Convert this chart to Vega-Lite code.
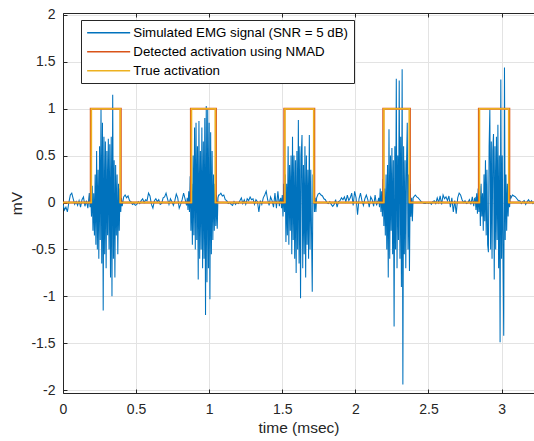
{
  "$schema": "https://vega.github.io/schema/vega-lite/v6.json",
  "width": 471,
  "height": 380,
  "autosize": {"type": "none"},
  "padding": {"left": 63, "top": 13, "right": 0, "bottom": 48},
  "background": "white",
  "config": {
    "font": "Liberation Sans",
    "view": {"stroke": null},
    "axis": {
      "domainColor": "#262626",
      "tickColor": "#262626",
      "labelColor": "#262626",
      "titleColor": "#262626",
      "gridColor": "#e3e3e3",
      "labelFont": "Liberation Sans",
      "labelFontSize": 14,
      "titleFont": "Liberation Sans",
      "titleFontSize": 15.5,
      "titleFontWeight": "normal",
      "tickSize": -4
    }
  },
  "resolve": {"axis": {"x": "independent"}},
  "layer": [
    {
      "data": {"values": [
        {"t":0,"v":-0.02},{"t":0.01,"v":-0.08},{"t":0.02,"v":-0.05},{"t":0.03,"v":-0.1},{"t":0.04,"v":0},{"t":0.05,"v":0.08},{"t":0.06,"v":0.1},{"t":0.07,"v":0.04},{"t":0.08,"v":-0.02},{"t":0.09,"v":0.01},{"t":0.1,"v":-0.03},{"t":0.11,"v":0.02},{"t":0.12,"v":-0.05},{"t":0.13,"v":0.03},{"t":0.14,"v":0.06},{"t":0.15,"v":-0.04},{"t":0.16,"v":0.02},{"t":0.17,"v":-0.06},{"t":0.18,"v":0.1},{"t":0.185,"v":-0.05},
        {"t":0.19,"v":0.05},{"t":0.195,"v":-0.15},{"t":0.2,"v":0.18},{"t":0.205,"v":-0.3},{"t":0.21,"v":0.1},{"t":0.215,"v":-0.35},{"t":0.22,"v":0.3},{"t":0.225,"v":-0.45},{"t":0.23,"v":0.55},{"t":0.235,"v":-0.5},{"t":0.24,"v":0.35},{"t":0.245,"v":-0.6},{"t":0.25,"v":0.6},{"t":0.255,"v":-0.4},{"t":0.26,"v":1.0},{"t":0.265,"v":-0.65},{"t":0.27,"v":0.85},{"t":0.275,"v":-1.15},{"t":0.28,"v":0.7},{"t":0.285,"v":-0.55},{"t":0.29,"v":0.65},{"t":0.295,"v":-0.7},{"t":0.3,"v":0.55},{"t":0.305,"v":-0.35},{"t":0.31,"v":0.68},{"t":0.315,"v":-0.5},{"t":0.32,"v":0.62},{"t":0.325,"v":-0.8},{"t":0.33,"v":0.7},{"t":0.335,"v":-1.0},{"t":0.34,"v":1.15},{"t":0.345,"v":-0.6},{"t":0.35,"v":0.45},{"t":0.355,"v":-0.8},{"t":0.36,"v":0.4},{"t":0.365,"v":-0.35},{"t":0.37,"v":0.3},{"t":0.375,"v":-0.55},{"t":0.38,"v":0.2},{"t":0.385,"v":-0.3},{"t":0.39,"v":0.15},{"t":0.395,"v":-0.1},{"t":0.4,"v":0.05},
        {"t":0.405,"v":-0.04},{"t":0.415,"v":0.06},{"t":0.425,"v":0.08},{"t":0.435,"v":0.05},{"t":0.445,"v":0.07},{"t":0.455,"v":0.02},{"t":0.465,"v":0.01},{"t":0.475,"v":-0.02},{"t":0.485,"v":-0.01},{"t":0.495,"v":-0.03},{"t":0.505,"v":-0.02},{"t":0.515,"v":0.01},{"t":0.525,"v":-0.01},{"t":0.535,"v":0.02},{"t":0.545,"v":0.04},{"t":0.555,"v":0},{"t":0.565,"v":0.03},{"t":0.575,"v":0.02},{"t":0.585,"v":0.1},{"t":0.595,"v":0.07},{"t":0.605,"v":-0.02},{"t":0.615,"v":-0.06},{"t":0.625,"v":0.02},{"t":0.635,"v":0.04},{"t":0.645,"v":0.01},{"t":0.655,"v":0.03},{"t":0.665,"v":-0.02},{"t":0.675,"v":-0.01},{"t":0.685,"v":0.05},{"t":0.695,"v":0.06},{"t":0.705,"v":0.1},{"t":0.715,"v":0.04},{"t":0.725,"v":-0.02},{"t":0.735,"v":0.04},{"t":0.745,"v":0.01},{"t":0.755,"v":-0.03},{"t":0.765,"v":0.02},{"t":0.775,"v":0.09},{"t":0.785,"v":0.05},{"t":0.795,"v":-0.06},{"t":0.805,"v":-0.02},{"t":0.815,"v":0.03},{"t":0.825,"v":0.1},{"t":0.835,"v":0.04},{"t":0.845,"v":-0.03},
        {"t":0.85,"v":0.05},{"t":0.855,"v":-0.08},{"t":0.86,"v":0.12},{"t":0.865,"v":-0.1},{"t":0.87,"v":0.28},{"t":0.875,"v":-0.3},{"t":0.88,"v":0.2},{"t":0.885,"v":-0.45},{"t":0.89,"v":0.5},{"t":0.895,"v":-0.35},{"t":0.9,"v":0.8},{"t":0.905,"v":-0.5},{"t":0.91,"v":0.85},{"t":0.915,"v":-0.4},{"t":0.92,"v":0.6},{"t":0.925,"v":-0.82},{"t":0.93,"v":0.87},{"t":0.935,"v":-0.6},{"t":0.94,"v":0.55},{"t":0.945,"v":-0.5},{"t":0.95,"v":0.8},{"t":0.955,"v":-0.7},{"t":0.96,"v":0.65},{"t":0.965,"v":-0.6},{"t":0.97,"v":0.9},{"t":0.975,"v":-1.2},{"t":0.98,"v":1.03},{"t":0.985,"v":-0.85},{"t":0.99,"v":1.0},{"t":0.995,"v":-0.7},{"t":1.0,"v":0.85},{"t":1.005,"v":-1.03},{"t":1.01,"v":0.75},{"t":1.015,"v":-0.55},{"t":1.02,"v":0.55},{"t":1.025,"v":-0.4},{"t":1.03,"v":0.3},{"t":1.035,"v":-0.3},{"t":1.04,"v":0.2},{"t":1.045,"v":-0.25},{"t":1.05,"v":0.08},{"t":1.055,"v":-0.28},{"t":1.06,"v":0.05},{"t":1.065,"v":0.08},
        {"t":1.07,"v":0.08},{"t":1.08,"v":0.1},{"t":1.09,"v":0.07},{"t":1.1,"v":0.08},{"t":1.11,"v":0.03},{"t":1.12,"v":0.02},{"t":1.13,"v":-0.01},{"t":1.14,"v":0},{"t":1.15,"v":-0.02},{"t":1.16,"v":-0.03},{"t":1.17,"v":0.01},{"t":1.18,"v":-0.02},{"t":1.19,"v":0},{"t":1.2,"v":-0.01},{"t":1.21,"v":0.02},{"t":1.22,"v":0.05},{"t":1.23,"v":-0.01},{"t":1.24,"v":0.03},{"t":1.25,"v":-0.02},{"t":1.26,"v":0.04},{"t":1.27,"v":0.02},{"t":1.28,"v":0.06},{"t":1.29,"v":0.03},{"t":1.3,"v":0.04},{"t":1.31,"v":-0.02},{"t":1.32,"v":0.03},{"t":1.33,"v":0.01},{"t":1.34,"v":-0.1},{"t":1.35,"v":0.02},{"t":1.36,"v":-0.02},{"t":1.37,"v":0.05},{"t":1.38,"v":0.08},{"t":1.39,"v":0.12},{"t":1.4,"v":0.03},{"t":1.41,"v":-0.03},{"t":1.42,"v":0.06},{"t":1.43,"v":0.02},{"t":1.44,"v":-0.05},{"t":1.45,"v":0.1},{"t":1.46,"v":-0.06},{"t":1.47,"v":0.12},{"t":1.48,"v":-0.04},{"t":1.485,"v":0.03},
        {"t":1.49,"v":0.05},{"t":1.495,"v":-0.06},{"t":1.5,"v":0.08},{"t":1.505,"v":-0.15},{"t":1.51,"v":0.2},{"t":1.515,"v":-0.1},{"t":1.52,"v":0.3},{"t":1.525,"v":-0.42},{"t":1.53,"v":0.2},{"t":1.535,"v":-0.35},{"t":1.54,"v":0.6},{"t":1.545,"v":-0.45},{"t":1.55,"v":0.4},{"t":1.555,"v":-0.3},{"t":1.56,"v":0.5},{"t":1.565,"v":-0.55},{"t":1.57,"v":0.7},{"t":1.575,"v":-0.4},{"t":1.58,"v":0.5},{"t":1.585,"v":-0.6},{"t":1.59,"v":0.45},{"t":1.595,"v":-0.75},{"t":1.6,"v":0.55},{"t":1.605,"v":-0.5},{"t":1.61,"v":0.88},{"t":1.615,"v":-0.65},{"t":1.62,"v":0.6},{"t":1.625,"v":-1.02},{"t":1.63,"v":0.5},{"t":1.635,"v":0.72},{"t":1.64,"v":-0.7},{"t":1.645,"v":0.4},{"t":1.65,"v":-0.55},{"t":1.655,"v":0.6},{"t":1.66,"v":-0.8},{"t":1.665,"v":0.5},{"t":1.67,"v":-0.45},{"t":1.675,"v":0.35},{"t":1.68,"v":-0.6},{"t":1.685,"v":0.72},{"t":1.69,"v":-0.5},{"t":1.695,"v":0.35},{"t":1.7,"v":-0.3},{"t":1.705,"v":-0.95},{"t":1.71,"v":0.3},{"t":1.715,"v":0.2},{"t":1.72,"v":-0.1},{"t":1.725,"v":0.05},{"t":1.73,"v":-0.1},
        {"t":1.735,"v":0.05},{"t":1.745,"v":0.09},{"t":1.755,"v":0.1},{"t":1.765,"v":0.08},{"t":1.775,"v":0.07},{"t":1.785,"v":0.04},{"t":1.795,"v":0.03},{"t":1.805,"v":0},{"t":1.815,"v":-0.01},{"t":1.825,"v":0.01},{"t":1.835,"v":-0.02},{"t":1.845,"v":-0.04},{"t":1.855,"v":-0.02},{"t":1.865,"v":0.03},{"t":1.875,"v":-0.05},{"t":1.885,"v":0.01},{"t":1.895,"v":0.02},{"t":1.905,"v":0.05},{"t":1.915,"v":0.03},{"t":1.925,"v":0.06},{"t":1.935,"v":0.01},{"t":1.945,"v":0.08},{"t":1.955,"v":0.02},{"t":1.965,"v":0.05},{"t":1.975,"v":0.1},{"t":1.985,"v":-0.03},{"t":1.995,"v":0.12},{"t":2.005,"v":0.05},{"t":2.015,"v":-0.13},{"t":2.025,"v":0.04},{"t":2.035,"v":0.1},{"t":2.045,"v":0.02},{"t":2.055,"v":-0.03},{"t":2.065,"v":0.04},{"t":2.075,"v":0.08},{"t":2.085,"v":0.03},{"t":2.095,"v":-0.05},{"t":2.105,"v":0.06},{"t":2.115,"v":0.03},{"t":2.125,"v":-0.04},{"t":2.135,"v":0.08},{"t":2.145,"v":-0.03},{"t":2.155,"v":0.02},
        {"t":2.16,"v":0.05},{"t":2.165,"v":-0.05},{"t":2.17,"v":0.15},{"t":2.175,"v":-0.1},{"t":2.18,"v":0.12},{"t":2.185,"v":-0.15},{"t":2.19,"v":0.25},{"t":2.195,"v":-0.25},{"t":2.2,"v":0.15},{"t":2.205,"v":-0.35},{"t":2.21,"v":0.3},{"t":2.215,"v":-0.5},{"t":2.22,"v":0.4},{"t":2.225,"v":-0.8},{"t":2.23,"v":0.78},{"t":2.235,"v":-0.6},{"t":2.24,"v":0.5},{"t":2.245,"v":-0.3},{"t":2.25,"v":0.58},{"t":2.255,"v":-0.55},{"t":2.26,"v":0.45},{"t":2.265,"v":-1.32},{"t":2.27,"v":0.6},{"t":2.275,"v":-0.5},{"t":2.28,"v":1.32},{"t":2.285,"v":-0.7},{"t":2.29,"v":0.5},{"t":2.295,"v":-0.4},{"t":2.3,"v":1.3},{"t":2.305,"v":-0.6},{"t":2.31,"v":0.7},{"t":2.315,"v":-0.9},{"t":2.32,"v":1.42},{"t":2.325,"v":-1.94},{"t":2.33,"v":0.6},{"t":2.335,"v":-0.55},{"t":2.34,"v":0.45},{"t":2.345,"v":-0.7},{"t":2.35,"v":0.4},{"t":2.355,"v":0.85},{"t":2.36,"v":-0.5},{"t":2.365,"v":0.3},{"t":2.37,"v":-0.73},{"t":2.375,"v":0.2},{"t":2.38,"v":-0.15},{"t":2.385,"v":0.05},{"t":2.39,"v":-0.2},{"t":2.395,"v":0.05},
        {"t":2.4,"v":0.06},{"t":2.41,"v":0.08},{"t":2.42,"v":0.06},{"t":2.43,"v":0.05},{"t":2.44,"v":0.03},{"t":2.45,"v":0.01},{"t":2.46,"v":0},{"t":2.47,"v":-0.01},{"t":2.48,"v":-0.01},{"t":2.49,"v":0},{"t":2.5,"v":-0.01},{"t":2.51,"v":0},{"t":2.52,"v":-0.02},{"t":2.53,"v":0.01},{"t":2.54,"v":0.02},{"t":2.55,"v":-0.01},{"t":2.56,"v":0.05},{"t":2.57,"v":0},{"t":2.58,"v":0.07},{"t":2.59,"v":-0.02},{"t":2.6,"v":0.08},{"t":2.61,"v":0.04},{"t":2.62,"v":0.06},{"t":2.63,"v":0.02},{"t":2.64,"v":0.07},{"t":2.65,"v":-0.05},{"t":2.66,"v":0.05},{"t":2.67,"v":-0.1},{"t":2.68,"v":0.02},{"t":2.69,"v":-0.12},{"t":2.7,"v":0.05},{"t":2.71,"v":0.1},{"t":2.72,"v":0.08},{"t":2.73,"v":0.03},{"t":2.74,"v":0},{"t":2.75,"v":0.02},{"t":2.76,"v":-0.01},{"t":2.77,"v":0},{"t":2.78,"v":0.03},{"t":2.79,"v":-0.02},{"t":2.8,"v":0.06},{"t":2.81,"v":-0.04},{"t":2.815,"v":0.04},
        {"t":2.82,"v":0.05},{"t":2.825,"v":-0.08},{"t":2.83,"v":0.1},{"t":2.835,"v":-0.12},{"t":2.84,"v":0.15},{"t":2.845,"v":-0.1},{"t":2.85,"v":0.18},{"t":2.855,"v":-0.25},{"t":2.86,"v":0.2},{"t":2.865,"v":-0.15},{"t":2.87,"v":0.1},{"t":2.875,"v":-0.3},{"t":2.88,"v":0.3},{"t":2.885,"v":-0.2},{"t":2.89,"v":0.45},{"t":2.895,"v":-0.35},{"t":2.9,"v":0.35},{"t":2.905,"v":-0.45},{"t":2.91,"v":-0.53},{"t":2.915,"v":0.6},{"t":2.92,"v":0.99},{"t":2.925,"v":-0.5},{"t":2.93,"v":0.65},{"t":2.935,"v":-0.6},{"t":2.94,"v":0.55},{"t":2.945,"v":0.73},{"t":2.95,"v":-0.82},{"t":2.955,"v":0.6},{"t":2.96,"v":-0.5},{"t":2.965,"v":0.7},{"t":2.97,"v":-0.4},{"t":2.975,"v":0.83},{"t":2.98,"v":-0.7},{"t":2.985,"v":0.5},{"t":2.99,"v":-1.49},{"t":2.995,"v":1.31},{"t":3.0,"v":-0.6},{"t":3.005,"v":0.5},{"t":3.01,"v":-0.55},{"t":3.015,"v":-1.42},{"t":3.02,"v":1.44},{"t":3.025,"v":-0.4},{"t":3.03,"v":0.3},{"t":3.035,"v":-0.3},{"t":3.04,"v":0.2},{"t":3.045,"v":-0.15},{"t":3.05,"v":0.1},{"t":3.055,"v":-0.05},{"t":3.06,"v":0.08},
        {"t":3.065,"v":0.05},{"t":3.075,"v":0.08},{"t":3.085,"v":0.07},{"t":3.095,"v":0.06},{"t":3.105,"v":0.04},{"t":3.115,"v":0.02},{"t":3.125,"v":0.02},{"t":3.135,"v":-0.01},{"t":3.145,"v":0.01},{"t":3.155,"v":0.02},{"t":3.165,"v":-0.02},{"t":3.175,"v":0.01},{"t":3.185,"v":0.03},{"t":3.195,"v":0},{"t":3.205,"v":0.02},{"t":3.215,"v":-0.01},{"t":3.225,"v":0.01},{"t":3.235,"v":0}
      ]},
      "mark": {"type": "line", "strokeWidth": 1.05, "clip": true},
      "encoding": {
        "x": {
          "field": "t", "type": "quantitative",
          "scale": {"domain": [0, 3.222], "nice": false, "zero": false},
          "axis": {"title": "time (msec)", "values": [0, 0.5, 1, 1.5, 2, 2.5, 3], "labelExpr": "datum.value + ''", "labelFlush": false, "labelPadding": 13, "titlePadding": 4, "grid": true}
        },
        "y": {
          "field": "v", "type": "quantitative",
          "scale": {"domain": [-2.03, 2.02], "nice": false, "zero": false},
          "axis": {"title": "mV", "values": [-2, -1.5, -1, -0.5, 0, 0.5, 1, 1.5, 2], "labelExpr": "datum.value + ''", "labelPadding": 12, "titlePadding": 6, "grid": true}
        },
        "color": {
          "datum": "Simulated EMG signal (SNR = 5 dB)",
          "type": "nominal",
          "scale": {
            "domain": ["Simulated EMG signal (SNR = 5 dB)", "Detected activation using NMAD", "True activation"],
            "range": ["#0072BD", "#D95319", "#EDB120"]
          },
          "legend": {
            "orient": "none", "legendX": 18, "legendY": 7, "title": null,
            "symbolType": "M-10.75,0H10.75", "symbolSize": 16, "symbolStrokeWidth": 1.5,
            "symbolOffset": 15, "labelOffset": 18, "labelFontSize": 13.3, "labelFont": "Liberation Sans",
            "labelColor": "#000000", "labelLimit": 0,
            "fillColor": "white", "strokeColor": "#262626", "padding": 6, "rowPadding": 5
          }
        }
      }
    },
    {
      "data": {"values": [
        {"t":0,"v":0},{"t":0.19,"v":1},{"t":0.395,"v":0},{"t":0.875,"v":1},{"t":1.046,"v":0},{"t":1.514,"v":1},{"t":1.719,"v":0},{"t":2.191,"v":1},{"t":2.373,"v":0},{"t":2.845,"v":1},{"t":3.053,"v":0},{"t":3.222,"v":0}
      ]},
      "mark": {"type": "line", "interpolate": "step-after", "strokeWidth": 2},
      "encoding": {
        "x": {"field": "t", "type": "quantitative", "axis": null},
        "y": {"field": "v", "type": "quantitative"},
        "color": {"datum": "Detected activation using NMAD", "type": "nominal"}
      }
    },
    {
      "data": {"values": [
        {"t":0,"v":0},{"t":0.194,"v":1},{"t":0.391,"v":0},{"t":0.879,"v":1},{"t":1.042,"v":0},{"t":1.518,"v":1},{"t":1.715,"v":0},{"t":2.195,"v":1},{"t":2.369,"v":0},{"t":2.849,"v":1},{"t":3.049,"v":0},{"t":3.222,"v":0}
      ]},
      "mark": {"type": "line", "interpolate": "step-after", "strokeWidth": 1.6},
      "encoding": {
        "x": {"field": "t", "type": "quantitative", "axis": {"orient": "top", "labels": false, "title": null, "grid": false, "values": [0, 0.5, 1, 1.5, 2, 2.5, 3]}},
        "y": {"field": "v", "type": "quantitative"},
        "color": {"datum": "True activation", "type": "nominal"}
      }
    }
  ]
}
